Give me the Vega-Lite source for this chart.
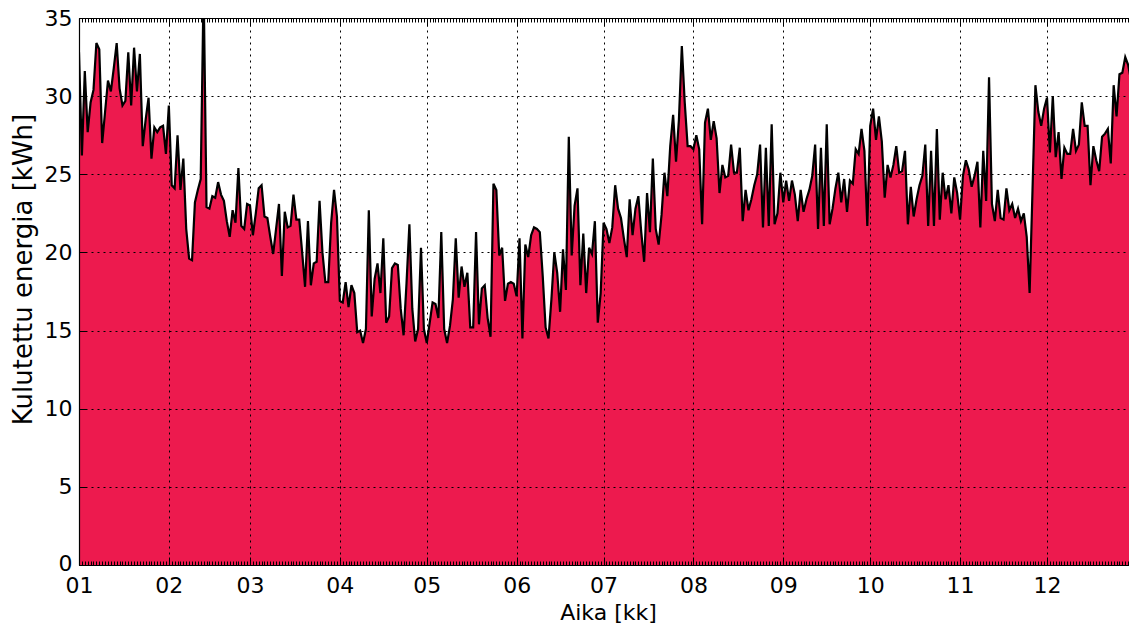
{
  "$schema": "https://vega.github.io/schema/vega-lite/v6.json",
  "width": 1050,
  "height": 547,
  "autosize": {"type": "none"},
  "padding": {"left": 79, "top": 18, "right": 0, "bottom": 62},
  "background": "white",
  "config": {
    "view": {"stroke": null},
    "font": "DejaVu Sans",
    "axis": {"labelFont": "DejaVu Sans", "titleFont": "DejaVu Sans", "labelColor": "black", "titleColor": "black", "titleFontWeight": "normal"}
  },
  "data": {"values": [
{"t":"2015-01-01","v":32.8},{"t":"2015-01-02","v":26.2},{"t":"2015-01-03","v":31.6},{"t":"2015-01-04","v":27.7},{"t":"2015-01-05","v":29.6},{"t":"2015-01-06","v":30.4},{"t":"2015-01-07","v":33.4},{"t":"2015-01-08","v":33.0},{"t":"2015-01-09","v":27.0},{"t":"2015-01-10","v":29.0},{"t":"2015-01-11","v":31.0},{"t":"2015-01-12","v":30.3},{"t":"2015-01-13","v":31.8},{"t":"2015-01-14","v":33.4},{"t":"2015-01-15","v":30.5},{"t":"2015-01-16","v":29.4},{"t":"2015-01-17","v":29.7},{"t":"2015-01-18","v":32.8},{"t":"2015-01-19","v":29.4},{"t":"2015-01-20","v":33.1},{"t":"2015-01-21","v":30.3},{"t":"2015-01-22","v":32.7},{"t":"2015-01-23","v":26.8},{"t":"2015-01-24","v":28.5},{"t":"2015-01-25","v":29.9},{"t":"2015-01-26","v":26.0},{"t":"2015-01-27","v":28.0},{"t":"2015-01-28","v":27.7},{"t":"2015-01-29","v":28.0},{"t":"2015-01-30","v":28.1},{"t":"2015-01-31","v":26.3},
{"t":"2015-02-01","v":29.4},{"t":"2015-02-02","v":24.3},{"t":"2015-02-03","v":24.1},{"t":"2015-02-04","v":27.5},{"t":"2015-02-05","v":24.0},{"t":"2015-02-06","v":26.0},{"t":"2015-02-07","v":21.5},{"t":"2015-02-08","v":19.6},{"t":"2015-02-09","v":19.5},{"t":"2015-02-10","v":23.2},{"t":"2015-02-11","v":24.0},{"t":"2015-02-12","v":24.7},{"t":"2015-02-13","v":37.0},{"t":"2015-02-14","v":22.9},{"t":"2015-02-15","v":22.8},{"t":"2015-02-16","v":23.6},{"t":"2015-02-17","v":23.5},{"t":"2015-02-18","v":24.5},{"t":"2015-02-19","v":23.7},{"t":"2015-02-20","v":23.3},{"t":"2015-02-21","v":22.0},{"t":"2015-02-22","v":21.0},{"t":"2015-02-23","v":22.7},{"t":"2015-02-24","v":21.9},{"t":"2015-02-25","v":25.4},{"t":"2015-02-26","v":21.7},{"t":"2015-02-27","v":21.5},{"t":"2015-02-28","v":23.1},
{"t":"2015-03-01","v":23.0},{"t":"2015-03-02","v":21.1},{"t":"2015-03-03","v":22.5},{"t":"2015-03-04","v":24.1},{"t":"2015-03-05","v":24.3},{"t":"2015-03-06","v":22.3},{"t":"2015-03-07","v":22.2},{"t":"2015-03-08","v":21.0},{"t":"2015-03-09","v":19.9},{"t":"2015-03-10","v":21.5},{"t":"2015-03-11","v":23.1},{"t":"2015-03-12","v":18.5},{"t":"2015-03-13","v":22.6},{"t":"2015-03-14","v":21.6},{"t":"2015-03-15","v":21.7},{"t":"2015-03-16","v":23.7},{"t":"2015-03-17","v":22.1},{"t":"2015-03-18","v":22.1},{"t":"2015-03-19","v":20.0},{"t":"2015-03-20","v":17.8},{"t":"2015-03-21","v":22.0},{"t":"2015-03-22","v":17.9},{"t":"2015-03-23","v":19.3},{"t":"2015-03-24","v":19.4},{"t":"2015-03-25","v":23.3},{"t":"2015-03-26","v":20.0},{"t":"2015-03-27","v":18.1},{"t":"2015-03-28","v":18.1},{"t":"2015-03-29","v":21.9},{"t":"2015-03-30","v":24.0},{"t":"2015-03-31","v":22.3},
{"t":"2015-04-01","v":16.9},{"t":"2015-04-02","v":16.8},{"t":"2015-04-03","v":18.1},{"t":"2015-04-04","v":16.5},{"t":"2015-04-05","v":17.9},{"t":"2015-04-06","v":17.4},{"t":"2015-04-07","v":14.9},{"t":"2015-04-08","v":15.0},{"t":"2015-04-09","v":14.2},{"t":"2015-04-10","v":15.1},{"t":"2015-04-11","v":22.7},{"t":"2015-04-12","v":15.9},{"t":"2015-04-13","v":18.3},{"t":"2015-04-14","v":19.3},{"t":"2015-04-15","v":17.4},{"t":"2015-04-16","v":20.9},{"t":"2015-04-17","v":15.5},{"t":"2015-04-18","v":15.9},{"t":"2015-04-19","v":19.0},{"t":"2015-04-20","v":19.3},{"t":"2015-04-21","v":19.2},{"t":"2015-04-22","v":16.4},{"t":"2015-04-23","v":14.7},{"t":"2015-04-24","v":18.0},{"t":"2015-04-25","v":21.8},{"t":"2015-04-26","v":16.4},{"t":"2015-04-27","v":14.3},{"t":"2015-04-28","v":15.1},{"t":"2015-04-29","v":20.3},{"t":"2015-04-30","v":15.1},
{"t":"2015-05-01","v":14.2},{"t":"2015-05-02","v":15.5},{"t":"2015-05-03","v":16.8},{"t":"2015-05-04","v":16.7},{"t":"2015-05-05","v":15.8},{"t":"2015-05-06","v":21.3},{"t":"2015-05-07","v":15.1},{"t":"2015-05-08","v":14.2},{"t":"2015-05-09","v":15.3},{"t":"2015-05-10","v":17.0},{"t":"2015-05-11","v":20.9},{"t":"2015-05-12","v":17.1},{"t":"2015-05-13","v":19.1},{"t":"2015-05-14","v":17.8},{"t":"2015-05-15","v":18.7},{"t":"2015-05-16","v":15.2},{"t":"2015-05-17","v":15.2},{"t":"2015-05-18","v":21.3},{"t":"2015-05-19","v":15.4},{"t":"2015-05-20","v":17.7},{"t":"2015-05-21","v":17.9},{"t":"2015-05-22","v":15.8},{"t":"2015-05-23","v":14.6},{"t":"2015-05-24","v":24.4},{"t":"2015-05-25","v":24.0},{"t":"2015-05-26","v":19.8},{"t":"2015-05-27","v":20.3},{"t":"2015-05-28","v":16.9},{"t":"2015-05-29","v":18.0},{"t":"2015-05-30","v":18.1},{"t":"2015-05-31","v":18.0},
{"t":"2015-06-01","v":17.2},{"t":"2015-06-02","v":20.9},{"t":"2015-06-03","v":14.5},{"t":"2015-06-04","v":20.5},{"t":"2015-06-05","v":19.7},{"t":"2015-06-06","v":21.1},{"t":"2015-06-07","v":21.6},{"t":"2015-06-08","v":21.5},{"t":"2015-06-09","v":21.3},{"t":"2015-06-10","v":18.5},{"t":"2015-06-11","v":15.2},{"t":"2015-06-12","v":14.5},{"t":"2015-06-13","v":17.0},{"t":"2015-06-14","v":20.0},{"t":"2015-06-15","v":18.7},{"t":"2015-06-16","v":16.2},{"t":"2015-06-17","v":20.2},{"t":"2015-06-18","v":17.6},{"t":"2015-06-19","v":27.4},{"t":"2015-06-20","v":19.8},{"t":"2015-06-21","v":23.0},{"t":"2015-06-22","v":24.1},{"t":"2015-06-23","v":17.9},{"t":"2015-06-24","v":21.2},{"t":"2015-06-25","v":17.4},{"t":"2015-06-26","v":20.3},{"t":"2015-06-27","v":19.9},{"t":"2015-06-28","v":22.0},{"t":"2015-06-29","v":15.5},{"t":"2015-06-30","v":17.4},
{"t":"2015-07-01","v":21.9},{"t":"2015-07-02","v":21.5},{"t":"2015-07-03","v":20.6},{"t":"2015-07-04","v":21.6},{"t":"2015-07-05","v":24.3},{"t":"2015-07-06","v":22.8},{"t":"2015-07-07","v":22.2},{"t":"2015-07-08","v":20.9},{"t":"2015-07-09","v":19.7},{"t":"2015-07-10","v":23.4},{"t":"2015-07-11","v":21.1},{"t":"2015-07-12","v":22.8},{"t":"2015-07-13","v":23.6},{"t":"2015-07-14","v":21.3},{"t":"2015-07-15","v":19.4},{"t":"2015-07-16","v":23.8},{"t":"2015-07-17","v":21.3},{"t":"2015-07-18","v":26.0},{"t":"2015-07-19","v":21.5},{"t":"2015-07-20","v":20.5},{"t":"2015-07-21","v":22.4},{"t":"2015-07-22","v":25.1},{"t":"2015-07-23","v":23.6},{"t":"2015-07-24","v":26.8},{"t":"2015-07-25","v":28.8},{"t":"2015-07-26","v":25.8},{"t":"2015-07-27","v":28.5},{"t":"2015-07-28","v":33.2},{"t":"2015-07-29","v":29.6},{"t":"2015-07-30","v":26.8},{"t":"2015-07-31","v":26.8},
{"t":"2015-08-01","v":26.6},{"t":"2015-08-02","v":27.5},{"t":"2015-08-03","v":26.6},{"t":"2015-08-04","v":21.8},{"t":"2015-08-05","v":28.3},{"t":"2015-08-06","v":29.2},{"t":"2015-08-07","v":27.2},{"t":"2015-08-08","v":28.4},{"t":"2015-08-09","v":27.3},{"t":"2015-08-10","v":23.8},{"t":"2015-08-11","v":25.6},{"t":"2015-08-12","v":24.8},{"t":"2015-08-13","v":24.9},{"t":"2015-08-14","v":26.9},{"t":"2015-08-15","v":25.1},{"t":"2015-08-16","v":25.1},{"t":"2015-08-17","v":26.7},{"t":"2015-08-18","v":22.0},{"t":"2015-08-19","v":24.0},{"t":"2015-08-20","v":22.7},{"t":"2015-08-21","v":23.4},{"t":"2015-08-22","v":24.3},{"t":"2015-08-23","v":25.0},{"t":"2015-08-24","v":26.9},{"t":"2015-08-25","v":21.6},{"t":"2015-08-26","v":26.7},{"t":"2015-08-27","v":21.7},{"t":"2015-08-28","v":28.2},{"t":"2015-08-29","v":21.8},{"t":"2015-08-30","v":22.5},{"t":"2015-08-31","v":25.1},
{"t":"2015-09-01","v":23.2},{"t":"2015-09-02","v":24.6},{"t":"2015-09-03","v":23.3},{"t":"2015-09-04","v":24.6},{"t":"2015-09-05","v":23.7},{"t":"2015-09-06","v":22.0},{"t":"2015-09-07","v":24.0},{"t":"2015-09-08","v":22.6},{"t":"2015-09-09","v":23.4},{"t":"2015-09-10","v":24.0},{"t":"2015-09-11","v":24.9},{"t":"2015-09-12","v":26.9},{"t":"2015-09-13","v":21.5},{"t":"2015-09-14","v":26.7},{"t":"2015-09-15","v":21.7},{"t":"2015-09-16","v":28.2},{"t":"2015-09-17","v":21.8},{"t":"2015-09-18","v":22.8},{"t":"2015-09-19","v":24.1},{"t":"2015-09-20","v":25.1},{"t":"2015-09-21","v":23.2},{"t":"2015-09-22","v":24.7},{"t":"2015-09-23","v":22.6},{"t":"2015-09-24","v":24.6},{"t":"2015-09-25","v":24.4},{"t":"2015-09-26","v":26.6},{"t":"2015-09-27","v":26.3},{"t":"2015-09-28","v":27.9},{"t":"2015-09-29","v":26.5},{"t":"2015-09-30","v":21.7},
{"t":"2015-10-01","v":28.1},{"t":"2015-10-02","v":29.2},{"t":"2015-10-03","v":27.2},{"t":"2015-10-04","v":28.7},{"t":"2015-10-05","v":27.1},{"t":"2015-10-06","v":23.5},{"t":"2015-10-07","v":25.6},{"t":"2015-10-08","v":24.8},{"t":"2015-10-09","v":25.6},{"t":"2015-10-10","v":26.8},{"t":"2015-10-11","v":25.1},{"t":"2015-10-12","v":25.2},{"t":"2015-10-13","v":26.5},{"t":"2015-10-14","v":21.8},{"t":"2015-10-15","v":24.2},{"t":"2015-10-16","v":22.3},{"t":"2015-10-17","v":23.4},{"t":"2015-10-18","v":24.3},{"t":"2015-10-19","v":24.9},{"t":"2015-10-20","v":26.9},{"t":"2015-10-21","v":21.7},{"t":"2015-10-22","v":26.5},{"t":"2015-10-23","v":21.7},{"t":"2015-10-24","v":27.9},{"t":"2015-10-25","v":22.1},{"t":"2015-10-26","v":25.1},{"t":"2015-10-27","v":23.4},{"t":"2015-10-28","v":24.3},{"t":"2015-10-29","v":22.5},{"t":"2015-10-30","v":24.8},{"t":"2015-10-31","v":23.8},
{"t":"2015-11-01","v":22.1},{"t":"2015-11-02","v":24.9},{"t":"2015-11-03","v":25.9},{"t":"2015-11-04","v":25.3},{"t":"2015-11-05","v":24.2},{"t":"2015-11-06","v":24.9},{"t":"2015-11-07","v":25.8},{"t":"2015-11-08","v":21.6},{"t":"2015-11-09","v":26.5},{"t":"2015-11-10","v":23.3},{"t":"2015-11-11","v":31.2},{"t":"2015-11-12","v":23.1},{"t":"2015-11-13","v":22.0},{"t":"2015-11-14","v":24.0},{"t":"2015-11-15","v":22.2},{"t":"2015-11-16","v":22.1},{"t":"2015-11-17","v":24.1},{"t":"2015-11-18","v":22.7},{"t":"2015-11-19","v":23.1},{"t":"2015-11-20","v":22.2},{"t":"2015-11-21","v":22.8},{"t":"2015-11-22","v":22.0},{"t":"2015-11-23","v":22.5},{"t":"2015-11-24","v":21.0},{"t":"2015-11-25","v":17.4},{"t":"2015-11-26","v":24.0},{"t":"2015-11-27","v":30.7},{"t":"2015-11-28","v":29.0},{"t":"2015-11-29","v":28.1},{"t":"2015-11-30","v":29.2},
{"t":"2015-12-01","v":29.9},{"t":"2015-12-02","v":26.4},{"t":"2015-12-03","v":30.0},{"t":"2015-12-04","v":26.1},{"t":"2015-12-05","v":27.7},{"t":"2015-12-06","v":24.7},{"t":"2015-12-07","v":26.7},{"t":"2015-12-08","v":26.3},{"t":"2015-12-09","v":26.3},{"t":"2015-12-10","v":27.9},{"t":"2015-12-11","v":26.5},{"t":"2015-12-12","v":26.9},{"t":"2015-12-13","v":29.6},{"t":"2015-12-14","v":28.1},{"t":"2015-12-15","v":28.1},{"t":"2015-12-16","v":24.3},{"t":"2015-12-17","v":26.8},{"t":"2015-12-18","v":25.9},{"t":"2015-12-19","v":25.2},{"t":"2015-12-20","v":27.4},{"t":"2015-12-21","v":27.6},{"t":"2015-12-22","v":27.9},{"t":"2015-12-23","v":25.7},{"t":"2015-12-24","v":30.7},{"t":"2015-12-25","v":28.7},{"t":"2015-12-26","v":31.4},{"t":"2015-12-27","v":31.5},{"t":"2015-12-28","v":32.5},{"t":"2015-12-29","v":32.0},{"t":"2015-12-30","v":31.0},{"t":"2015-12-31","v":30.5}
  ]},
  "layer": [
    {
      "mark": {"type": "area", "color": "#ED1A4E", "clip": true, "opacity": 1},
      "encoding": {
        "x": {
          "field": "t", "type": "temporal",
          "scale": {"type": "utc", "domain": [{"year": 2015, "month": 1, "date": 1, "utc": true}, {"year": 2015, "month": 12, "date": 29, "hours": 7, "utc": true}]},
          "axis": {
            "orient": "bottom",
            "tickCount": {"interval": "day", "step": 1},
            "tickSize": {"condition": {"test": "utcdate(datum.value) == 1", "value": -8}, "value": -4},
            "tickColor": "black", "tickWidth": 1,
            "domainColor": "black", "domainWidth": 1.2,
            "labelExpr": "utcdate(datum.value) == 1 ? utcFormat(datum.value, '%m') : ''",
            "labelOverlap": false, "labelFlush": false, "labelFontSize": 22, "labelPadding": 18,
            "grid": true,
            "gridColor": {"condition": {"test": "utcdate(datum.value) == 1", "value": "black"}, "value": "transparent"},
            "gridDash": [2, 4], "gridWidth": 1,
            "title": "Aika [kk]", "titleFontSize": 22, "titlePadding": 2, "titleX": 529,
            "zindex": 1
          }
        },
        "y": {
          "field": "v", "type": "quantitative",
          "scale": {"domain": [0, 35], "nice": false, "zero": true},
          "axis": {
            "values": [0, 5, 10, 15, 20, 25, 30, 35],
            "tickSize": -7, "tickColor": "black", "tickWidth": 1,
            "domainColor": "black", "domainWidth": 1.2,
            "labelFontSize": 22, "labelPadding": 14,
            "labelOffset": {"condition": {"test": "datum.value == 0", "value": -2}, "value": 0},
            "grid": true, "gridColor": "black", "gridDash": [2, 4], "gridWidth": 1,
            "title": "Kulutettu energia [kWh]", "titleFontSize": 26, "titlePadding": 8, "titleY": 251,
            "zindex": 1
          }
        }
      }
    },
    {
      "mark": {"type": "line", "color": "black", "strokeWidth": 2.2, "clip": true},
      "encoding": {
        "x": {
          "field": "t", "type": "temporal",
          "scale": {"type": "utc", "domain": [{"year": 2015, "month": 1, "date": 1, "utc": true}, {"year": 2015, "month": 12, "date": 29, "hours": 7, "utc": true}]},
          "axis": {
            "orient": "top",
            "tickCount": {"interval": "day", "step": 1},
            "tickSize": {"condition": {"test": "utcdate(datum.value) == 1", "value": -8}, "value": -4},
            "tickColor": "black", "tickWidth": 1,
            "domainColor": "black", "domainWidth": 1.2,
            "labels": false, "grid": false, "title": null, "zindex": 1
          }
        },
        "y": {"field": "v", "type": "quantitative"}
      }
    }
  ],
  "resolve": {"axis": {"x": "independent"}}
}
